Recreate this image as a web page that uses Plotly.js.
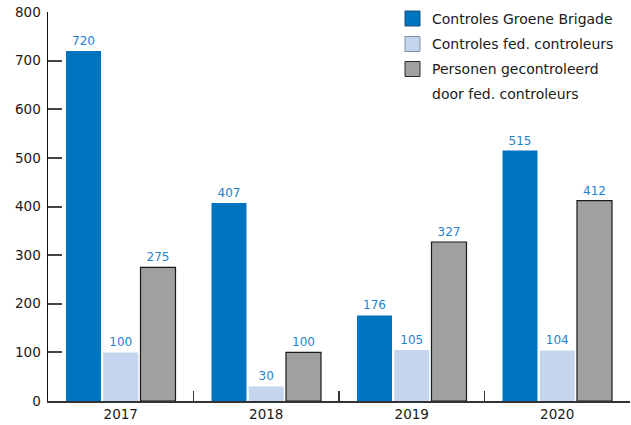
<!DOCTYPE html>
<html>
<head>
<meta charset="utf-8">
<script src="https://cdn.plot.ly/plotly-3.0.1.min.js"></script>
<style>html,body{margin:0;padding:0;background:#fff}#chart{width:631px;height:425px}</style>
</head>
<body>
<div id="chart"></div>
<script>
const years = ['2017', '2018', '2019', '2020'];
const groeneBrigade = [720, 407, 176, 515];
const fedControles = [100, 30, 105, 104];
const personenGecontroleerd = [275, 100, 327, 412];
const seriesNames = ['Controles Groene Brigade', 'Controles fed. controleurs', 'Personen gecontroleerd'];
const legendExtraLine = 'door fed. controleurs';
const yTicks = [0, 100, 200, 300, 400, 500, 600, 700, 800];

const fills = ['#0075bf', '#c6d5ee', '#a0a09f'];
const swatchBorders = ['#1d4f7c', '#7d8ca3', '#2a2a2a'];

const W = 631, H = 425;
const M = {l: 48, r: 1, t: 12, b: 24};
const plotW = W - M.l - M.r, plotH = H - M.t - M.b;
const px = v => (v - M.l) / plotW;
const py = v => (H - M.b - v) / plotH;

const labelFont = {family: 'DejaVu Sans, sans-serif', size: 12, color: '#1f82cc'};

function barTrace(name, values, fill, lineColor, lineWidth) {
  return {
    type: 'bar', name: name, x: years, y: values,
    text: values.map(String), textposition: 'outside', textfont: labelFont,
    cliponaxis: false, showlegend: false,
    marker: {color: fill, line: {color: lineColor, width: lineWidth}},
    hoverinfo: 'x+y'
  };
}

const data = [
  barTrace(seriesNames[0], groeneBrigade, fills[0], fills[0], 0),
  barTrace(seriesNames[1], fedControles, fills[1], fills[1], 0),
  barTrace(seriesNames[2], personenGecontroleerd, fills[2], '#1a1a1a', 1.2)
];

// custom legend (swatches + labels)
const legendRows = [18.5, 44, 69];
const shapes = legendRows.map((cy, i) => ({
  type: 'rect', xref: 'paper', yref: 'paper',
  x0: px(405), x1: px(420), y0: py(cy + 7.5), y1: py(cy - 7.5),
  fillcolor: fills[i], line: {color: swatchBorders[i], width: 1}
}));
const legendFont = {family: 'DejaVu Sans, sans-serif', size: 14, color: '#1a1a1a'};
const annotations = legendRows.map((cy, i) => ({
  xref: 'paper', yref: 'paper', x: px(430), y: py(cy), xanchor: 'left', yanchor: 'middle',
  text: seriesNames[i], showarrow: false, font: legendFont
}));
annotations.push({
  xref: 'paper', yref: 'paper', x: px(430), y: py(94), xanchor: 'left', yanchor: 'middle',
  text: legendExtraLine, showarrow: false, font: legendFont
});

const layout = {
  width: W, height: H,
  margin: M,
  paper_bgcolor: '#fff', plot_bgcolor: '#fff',
  font: {family: 'DejaVu Sans, sans-serif', size: 13, color: '#1a1a1a'},
  barmode: 'group', bargap: 0.232, bargroupgap: 0.06,
  showlegend: false,
  shapes: shapes,
  annotations: annotations,
  xaxis: {
    type: 'category', tickson: 'boundaries', ticks: 'inside', ticklen: 10,
    tickwidth: 1.5, tickcolor: '#333', showline: true, linecolor: '#333', linewidth: 2,
    showgrid: false, zeroline: false, fixedrange: true,
    tickfont: {size: 13.5, color: '#1a1a1a'}
  },
  yaxis: {
    range: [0, 800], tickvals: yTicks, ticks: 'inside', ticklen: 14, tickwidth: 2,
    tickcolor: '#444', showline: true, linecolor: '#111', linewidth: 1.5,
    showgrid: false, zeroline: false, fixedrange: true, ticklabelstandoff: 3,
    tickfont: {size: 13.5, color: '#1a1a1a'}
  }
};

Plotly.newPlot('chart', data, layout, {displayModeBar: false, staticPlot: true});
</script>
</body>
</html>
